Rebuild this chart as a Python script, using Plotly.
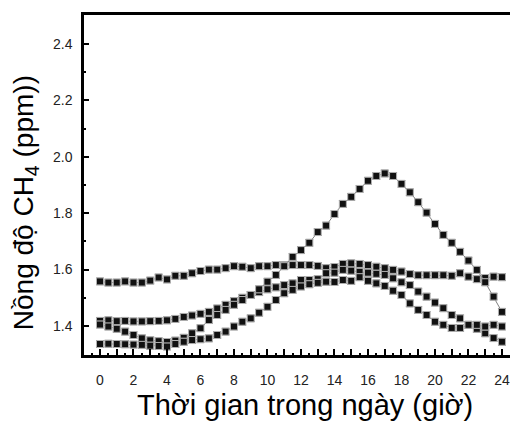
import plotly.graph_objects as go

hours = [i * 0.5 for i in range(49)]

s1 = [1.558, 1.554, 1.554, 1.558, 1.554, 1.554, 1.561, 1.572, 1.565, 1.578,
      1.578, 1.587, 1.595, 1.600, 1.600, 1.605, 1.612, 1.610, 1.605, 1.612,
      1.612, 1.616, 1.616, 1.616, 1.616, 1.616, 1.613, 1.605, 1.609, 1.620,
      1.622, 1.620, 1.616, 1.610, 1.605, 1.599, 1.593, 1.584, 1.580, 1.580,
      1.580, 1.580, 1.578, 1.587, 1.575, 1.566, 1.570, 1.575, 1.573]

s2 = [1.418, 1.420, 1.417, 1.418, 1.416, 1.416, 1.417, 1.418, 1.420, 1.425,
      1.432, 1.437, 1.443, 1.450, 1.462, 1.475, 1.488, 1.500, 1.510, 1.520,
      1.530, 1.537, 1.545, 1.551, 1.563, 1.563, 1.566, 1.587, 1.589, 1.599,
      1.596, 1.592, 1.589, 1.585, 1.581, 1.569, 1.555, 1.545, 1.522, 1.504,
      1.483, 1.463, 1.439, 1.427, 1.404, 1.390, 1.374, 1.357, 1.344]

s3 = [1.405, 1.398, 1.390, 1.380, 1.368, 1.356, 1.349, 1.346, 1.343, 1.348,
      1.358, 1.374, 1.392, 1.421, 1.439, 1.457, 1.475, 1.492, 1.510, 1.530,
      1.557, 1.581, 1.612, 1.645, 1.669, 1.695, 1.733, 1.756, 1.797, 1.833,
      1.858, 1.886, 1.915, 1.932, 1.941, 1.932, 1.904, 1.874, 1.839, 1.802,
      1.762, 1.723, 1.695, 1.663, 1.632, 1.599, 1.555, 1.504, 1.450]

s4 = [1.336, 1.337, 1.336, 1.335, 1.334, 1.333, 1.330, 1.329, 1.327, 1.336,
      1.344, 1.350, 1.353, 1.356, 1.368, 1.380, 1.398, 1.415, 1.427, 1.447,
      1.468, 1.492, 1.516, 1.528, 1.540, 1.548, 1.553, 1.557, 1.556, 1.563,
      1.560, 1.573, 1.560, 1.551, 1.542, 1.525, 1.510, 1.480, 1.457, 1.439,
      1.415, 1.404, 1.393, 1.393, 1.404, 1.404, 1.398, 1.404, 1.398]

err = 0.012

x_tickvals = list(range(0, 25))
x_ticktext = [str(v) if v % 2 == 0 else " " for v in x_tickvals]
y_tickvals = [1.4, 1.6, 1.8, 2.0, 2.2, 2.4]
y_ticktext = ["1.4", "1.6", "1.8", "2.0", "2.2", "2.4"]

fig = go.Figure()
for s in [s1, s2, s3, s4]:
    fig.add_trace(go.Scatter(
        x=hours, y=s, mode="lines+markers",
        line=dict(color="#808080", width=1),
        marker=dict(symbol="square", size=7, color="#111111",
                    line=dict(color="#b0b0b0", width=1)),
        error_y=dict(type="constant", value=err, color="#9a9a9a",
                     thickness=1, width=4),
        showlegend=False,
    ))

font_main = "Liberation Sans, Arial, sans-serif"

fig.update_layout(
    width=510, height=425,
    margin=dict(l=84, r=0, t=15, b=70),
    plot_bgcolor="white", paper_bgcolor="white",
    font=dict(family=font_main, color="#111111"),
    xaxis=dict(
        range=[-0.955, 24.48], showgrid=False, zeroline=False,
        showline=True, linecolor="black", linewidth=2.5, mirror=True,
        tickmode="array", tickvals=x_tickvals, ticktext=x_ticktext,
        ticks="inside", ticklen=6, tickwidth=1.5, tickcolor="black",
        tickfont=dict(size=14, color="#222222"), ticklabelstandoff=10,
        minor=dict(dtick=0.5, tick0=0, ticks="inside", ticklen=2.5,
                   tickwidth=1.5, tickcolor="black"),
    ),
    yaxis=dict(
        range=[1.297, 2.503], showgrid=False, zeroline=False,
        showline=True, linecolor="black", linewidth=2.5, mirror=False,
        tickmode="array", tickvals=y_tickvals, ticktext=y_ticktext,
        ticks="inside", ticklen=5, tickwidth=1.5, tickcolor="black",
        tickfont=dict(size=14, color="#222222"), ticklabelstandoff=6,
        minor=dict(dtick=0.1, tick0=1.3, ticks="inside", ticklen=2.5,
                   tickwidth=1.5, tickcolor="black"),
    ),
    annotations=[
        dict(text="Thời gian trong ngày (giờ)", xref="paper", yref="paper",
             x=0.519, y=-0.147, showarrow=False, xanchor="center",
             yanchor="middle", font=dict(size=29, color="black")),
        dict(text="Nồng độ CH<sub>4</sub> (ppm))", xref="paper", yref="paper",
             x=-0.138, y=0.447, showarrow=False, xanchor="center",
             yanchor="middle", textangle=-90,
             font=dict(size=28, color="black")),
    ],
)

fig.write_html("out.html")
